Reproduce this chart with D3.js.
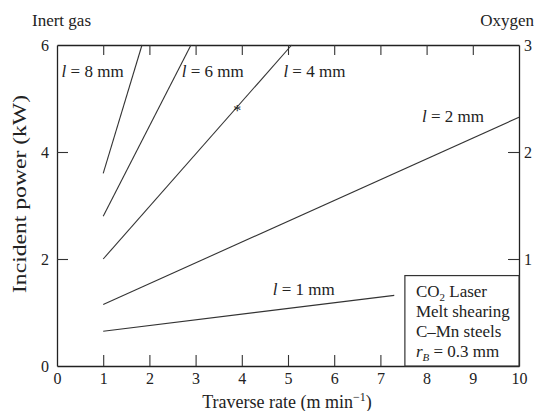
<!DOCTYPE html>
<html lang="en">
<head>
<meta charset="UTF-8">
<title>Incident power vs traverse rate</title>
<script src="https://d3js.org/d3.v7.min.js"></script>
<style>
  body { margin: 0; background: #fff; }
  svg text { font-family: "Liberation Serif", "DejaVu Serif", serif; fill: #222; }
</style>
</head>
<body>
<div id="chart"></div>
<script>
// thickness of each line (mm) and the two end points
const thickness = [8, 6, 4, 2, 1];
const rateStart = [1, 1, 1, 1, 1];
const powerStart = [3.6, 2.8, 2.0, 1.15, 0.65];
const rateEnd = [1.84, 2.9, 5.08, 10, 7.3];
const powerEnd = [6, 6, 6, 4.65, 1.32];
// label spots (data units) for each line
const labelRate = [0.1, 2.7, 4.9, 7.9, 4.67];
const labelPower = [5.4, 5.4, 5.4, 4.57, 1.33];
const markRate = 3.9, markPower = 4.82;

const xTicks = [0, 1, 2, 3, 4, 5, 6, 7, 8, 9, 10];
const yTicks = [0, 2, 4, 6];
const oxTicks = [1, 2, 3];
const boxLines = ["CO2 Laser", "Melt shearing", "C\u2013Mn steels", "rB = 0.3 mm"];

const w = 536, h = 411;
const pLeft = 57, pRight = 519, pTop = 45, pBottom = 366;

const svg = d3.select('#chart').append('svg')
    .attr('width', w).attr('height', h);

const x = d3.scaleLinear().domain([0, 10]).range([pLeft, pRight]);
const y = d3.scaleLinear().domain([0, 6]).range([pBottom, pTop]);
const y2 = d3.scaleLinear().domain([0, 3]).range([pBottom, pTop]);

const fs = 16;
const fmt = d3.format('d');

// frame-like axes with inward ticks
svg.append('g').attr('transform', `translate(0,${pBottom})`)
    .call(d3.axisBottom(x).tickValues(xTicks).tickFormat(fmt).tickSizeInner(-11).tickSizeOuter(0).tickPadding(7))
    .call(g => g.selectAll('.tick').filter(d => d === 0 || d === 10).select('line').remove());
svg.append('g').attr('transform', `translate(0,${pTop})`)
    .call(d3.axisTop(x).tickValues(xTicks.filter(d => d > 0 && d < 10)).tickSizeInner(-10).tickSizeOuter(0).tickFormat(''));
svg.append('g').attr('transform', `translate(${pLeft},0)`)
    .call(d3.axisLeft(y).tickValues(yTicks).tickFormat(fmt).tickSizeInner(-11).tickSizeOuter(0).tickPadding(8))
    .call(g => g.selectAll('.tick').filter(d => d === 0 || d === 6).select('line').remove());
svg.append('g').attr('transform', `translate(${pRight},0)`)
    .call(d3.axisRight(y2).tickValues(oxTicks).tickFormat(fmt).tickSizeInner(-11).tickSizeOuter(0).tickPadding(5))
    .call(g => g.selectAll('.tick').filter(d => d === 3).select('line').remove());

svg.selectAll('.domain').attr('stroke', '#222').attr('stroke-width', 1.3);
svg.selectAll('.tick line').attr('stroke', '#333').attr('stroke-width', 1.1);
svg.selectAll('.tick text').style('font-size', fs + 'px').attr('font-family', null);

// lines
const line = d3.line().x(d => x(d[0])).y(d => y(d[1]));
thickness.forEach((t, i) => {
  svg.append('path')
    .attr('d', line([[rateStart[i], powerStart[i]], [rateEnd[i], powerEnd[i]]]))
    .attr('fill', 'none').attr('stroke', '#333').attr('stroke-width', 1.1);
  const lab = svg.append('text')
    .attr('x', x(labelRate[i])).attr('y', y(labelPower[i]))
    .style('font-size', '17px');
  lab.append('tspan').attr('font-style', 'italic').text('l');
  lab.append('tspan').text(' = ' + t + ' mm');
});

svg.append('text').attr('x', x(markRate)).attr('y', y(markPower) + 8)
  .attr('text-anchor', 'middle').style('font-size', '16px').text('*');

// legend box
const bx = x(7.53);
const bt = y(1.69);
svg.append('rect').attr('x', bx).attr('y', bt)
  .attr('width', pRight - bx).attr('height', pBottom - bt)
  .attr('fill', '#fff').attr('stroke', '#333').attr('stroke-width', 1.2);
boxLines.forEach((s, i) => {
  const t = svg.append('text').attr('x', bx + 11).attr('y', bt + 21 + i * 20)
    .style('font-size', '17px');
  if (i === 0) {
    t.append('tspan').text('CO');
    t.append('tspan').attr('dy', 4).style('font-size', '11px').text('2');
    t.append('tspan').attr('dy', -4).text(' Laser');
  } else if (i === 3) {
    t.append('tspan').attr('font-style', 'italic').text('r');
    t.append('tspan').attr('dy', 4).attr('font-style', 'italic').style('font-size', '11px').text('B');
    t.append('tspan').attr('dy', -4).text(' = 0.3 mm');
  } else {
    t.text(s);
  }
});

// titles
svg.append('text').attr('x', 32).attr('y', 26).style('font-size', '17px').text('Inert gas');
svg.append('text').attr('x', 534).attr('y', 26).attr('text-anchor', 'end').style('font-size', '17px').text('Oxygen');

const xt = svg.append('text').attr('x', 287).attr('y', 408)
  .attr('text-anchor', 'middle').style('font-size', '18px');
xt.append('tspan').text('Traverse rate (m min');
xt.append('tspan').attr('dy', -7).style('font-size', '12px').text('\u22121');
xt.append('tspan').attr('dy', 7).text(')');

svg.append('text')
  .attr('transform', `translate(26,194) rotate(-90)`)
  .attr('text-anchor', 'middle').style('font-size', '18px')
  .attr('textLength', 198).attr('lengthAdjust', 'spacingAndGlyphs')
  .text('Incident power (kW)');
</script>
</body>
</html>
